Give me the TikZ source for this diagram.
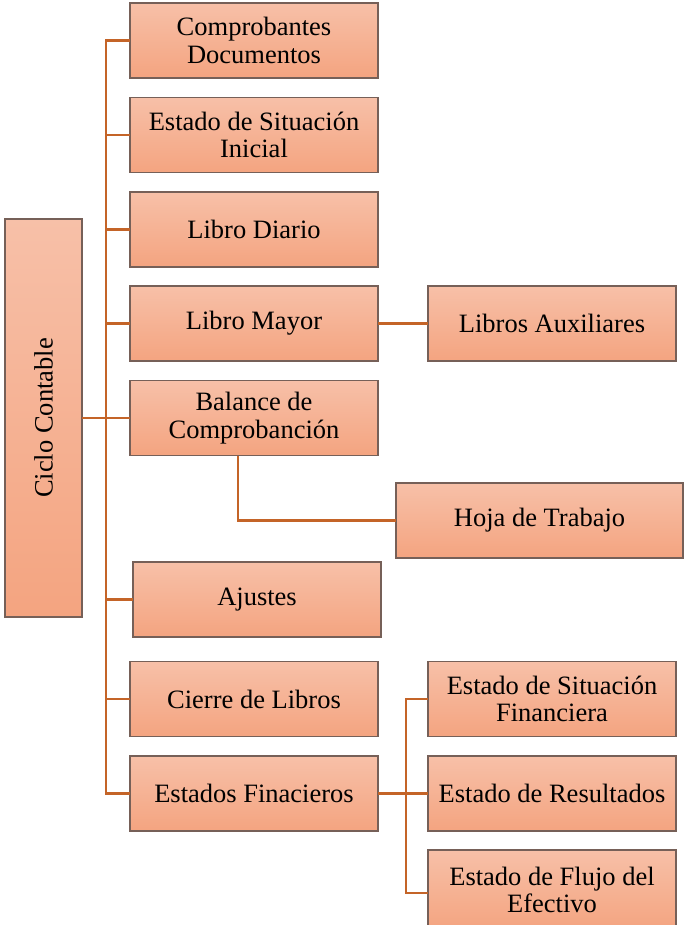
\documentclass[tikz,border=0pt]{standalone}
\usepackage{fontspec}
\setmainfont{Liberation Serif}
\usetikzlibrary{calc}
\definecolor{boxtop}{RGB}{247,192,168}
\definecolor{boxbot}{RGB}{244,164,128}
\definecolor{boxline}{RGB}{118,96,88}
\definecolor{conn}{RGB}{196,100,40}
\tikzset{
  box/.style={draw=boxline, line width=1.2pt, top color=boxtop, bottom color=boxbot,
    rectangle, inner sep=2pt, outer sep=0pt, align=center,
    minimum width=248pt, minimum height=75pt,
    font=\fontsize{26.5}{27.5}\selectfont},
  vbox/.style={draw=boxline, line width=1.2pt, top color=boxtop, bottom color=boxbot,
    rectangle, inner sep=2pt, outer sep=0pt, align=center,
    font=\fontsize{26.5}{27.5}\selectfont},
  link/.style={draw=conn, line width=2.8pt}
}
\begin{document}
\begin{tikzpicture}[x=1pt,y=-1pt]
\useasboundingbox (0,0) rectangle (684,925);
\fill[white] (0,0) rectangle (684,925);
% main node
\node[vbox, rotate=90, minimum width=398pt, minimum height=77pt] (cc) at (43.5,418) {Ciclo Contable};
% first column
\node[box] (comp) at (254,40.5) {Comprobantes\\Documentos};
\node[box] (esi) at (254,135) {Estado de Situación\\Inicial};
\node[box] (ld) at (254,229.5) {Libro Diario};
\node[box] (lm) at (254,323.5) {Libro Mayor};
\node[box] (bal) at (254,418) {Balance de\\Comprobanción};
\node[box] (aj) at (257,599.5) {Ajustes};
\node[box] (cl) at (254,699) {Cierre de Libros};
\node[box] (ef) at (254,793.5) {Estados Finacieros};
% right side
\node[box] (la) at (552,323.5) {Libros Auxiliares};
\node[box, minimum width=287pt] (ht) at (539.5,520.5) {Hoja de Trabajo};
\node[box] (esf) at (552,699) {Estado de Situación\\Financiera};
\node[box] (er) at (552,793.5) {Estado de Resultados};
\node[box, minimum height=80pt] (fl) at (552,890) {Estado de Flujo del\\Efectivo};
% connectors
\draw[link] (comp.west) -- ++(-24,0) |- (ef.west);
\draw[link] (esi.west) -- ++(-24,0);
\draw[link] (ld.west) -- ++(-24,0);
\draw[link] (lm.west) -- ++(-24,0);
\draw[link] (cc.south) -- (bal.west);
\draw[link] (aj.west) -- ++(-27,0);
\draw[link] (cl.west) -- ++(-24,0);
\draw[link] (lm.east) -- (la.west);
\draw[link] ([xshift=-16pt]bal.south) |- (ht.west);
\draw[link] (ef.east) -- (er.west);
\draw[link] (esf.west) -- ++(-22,0) |- ([yshift=-3pt]fl.west);
\end{tikzpicture}
\end{document}
